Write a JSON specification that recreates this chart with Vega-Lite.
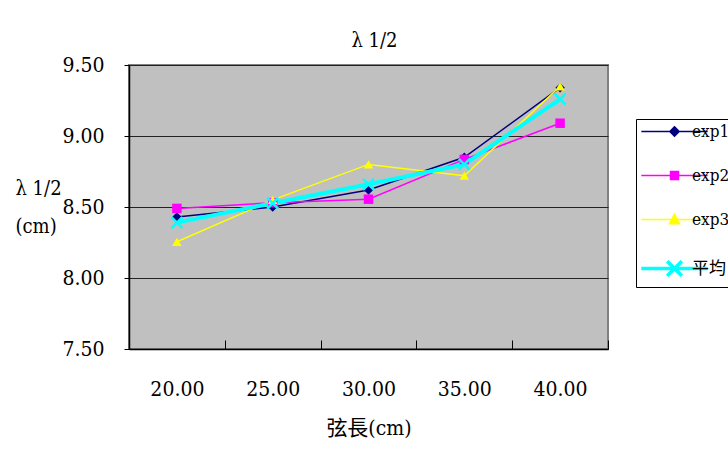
{
  "$schema": "https://vega.github.io/schema/vega-lite/v6.json",
  "autosize": {"type": "none"},
  "width": 479,
  "height": 284,
  "padding": {"left": 129, "top": 65, "right": 120, "bottom": 105},
  "background": "white",
  "config": {
    "font": "DejaVu Serif",
    "view": {"fill": "#C0C0C0", "stroke": "#808080", "strokeWidth": 2}
  },
  "title": {
    "text": "λ 1/2",
    "font": "DejaVu Serif Condensed",
    "fontSize": 20,
    "fontWeight": "normal",
    "color": "#000000",
    "offset": 3,
    "dx": 6
  },
  "data": {
    "values": [
      {"len": "20.00", "series": "exp1", "v": 8.43},
      {"len": "25.00", "series": "exp1", "v": 8.50},
      {"len": "30.00", "series": "exp1", "v": 8.62},
      {"len": "35.00", "series": "exp1", "v": 8.85},
      {"len": "40.00", "series": "exp1", "v": 9.34},
      {"len": "20.00", "series": "exp2", "v": 8.49},
      {"len": "25.00", "series": "exp2", "v": 8.53},
      {"len": "30.00", "series": "exp2", "v": 8.555},
      {"len": "35.00", "series": "exp2", "v": 8.835},
      {"len": "40.00", "series": "exp2", "v": 9.09},
      {"len": "20.00", "series": "exp3", "v": 8.255},
      {"len": "25.00", "series": "exp3", "v": 8.55},
      {"len": "30.00", "series": "exp3", "v": 8.80},
      {"len": "35.00", "series": "exp3", "v": 8.72},
      {"len": "40.00", "series": "exp3", "v": 9.35},
      {"len": "20.00", "series": "平均", "v": 8.39},
      {"len": "25.00", "series": "平均", "v": 8.527},
      {"len": "30.00", "series": "平均", "v": 8.66},
      {"len": "35.00", "series": "平均", "v": 8.80},
      {"len": "40.00", "series": "平均", "v": 9.26}
    ]
  },
  "encoding": {
    "x": {
      "field": "len",
      "type": "ordinal",
      "sort": null,
      "scale": {"type": "band", "paddingInner": 0, "paddingOuter": 0},
      "axis": {
        "title": "弦長(cm)",
        "titleFont": "DejaVu Serif Condensed, Noto Sans CJK TC",
        "titleFontSize": 21,
        "titleFontWeight": "normal",
        "titleColor": "#000000",
        "titlePadding": 18,
        "labelFont": "DejaVu Serif Condensed",
        "labelFontSize": 21,
        "labelColor": "#000000",
        "labelAngle": 0,
        "labelPadding": 38,
        "tickBand": "extent",
        "tickSize": -9,
        "tickColor": "#000000",
        "domainColor": "#000000",
        "domainWidth": 1.5,
        "grid": false
      }
    },
    "y": {
      "field": "v",
      "type": "quantitative",
      "scale": {"domain": [7.5, 9.5], "nice": false, "zero": false},
      "axis": {
        "values": [7.5, 8, 8.5, 9, 9.5],
        "format": ".2f",
        "title": ["λ 1/2", "(cm)"],
        "titleFont": "DejaVu Serif Condensed",
        "titleFontSize": 20,
        "titleFontWeight": "normal",
        "titleColor": "#000000",
        "titleAngle": 0,
        "titleAlign": "left",
        "titleBaseline": "top",
        "titleX": -114,
        "titleY": 113,
        "titleLineHeight": 38,
        "labelFont": "DejaVu Serif Condensed",
        "labelFontSize": 21,
        "labelColor": "#000000",
        "labelPadding": 20,
        "tickSize": 5,
        "tickColor": "#000000",
        "domainColor": "#000000",
        "domainWidth": 1.5,
        "grid": true,
        "gridColor": "#222222",
        "gridWidth": 1.2
      }
    },
    "color": {
      "field": "series",
      "type": "nominal",
      "scale": {
        "domain": ["exp1", "exp2", "exp3", "平均"],
        "range": ["#000080", "#FF00FF", "#FFFF00", "#00FFFF"]
      },
      "legend": {
        "title": null,
        "orient": "none",
        "legendX": 507,
        "legendY": 54,
        "padding": 4,
        "strokeColor": "#000000",
        "fillColor": "#FFFFFF",
        "symbolSize": 4400,
        "symbolOffset": 26,
        "symbolStrokeWidth": 1.5,
        "labelFont": "DejaVu Serif Condensed, Noto Sans CJK TC",
        "labelFontSize": 17,
        "labelColor": "#000000",
        "labelOffset": 9,
        "rowPadding": 26,
        "encode": {
          "symbols": {
            "update": {
              "shape": {"signal": "datum.value === 'exp1' ? 'M-1,0H1M0,-0.14L0.14,0L0,0.14L-0.14,0Z' : datum.value === 'exp2' ? 'M-1,0H1M-0.12,-0.12H0.12V0.12H-0.12Z' : datum.value === 'exp3' ? 'M-1,0H1M0,-0.16L0.15,0.13L-0.15,0.13Z' : 'M-1,0H1M-0.22,-0.22L0.22,0.22M-0.22,0.22L0.22,-0.22'"},
              "fill": {"signal": "scale('color', datum.value)"},
              "strokeWidth": {"signal": "datum.value === '平均' ? 3.5 : 1.5"}
            }
          }
        }
      }
    }
  },
  "layer": [
    {
      "transform": [{"filter": "datum.series !== '平均'"}],
      "mark": {"type": "line", "strokeWidth": 1.5}
    },
    {
      "transform": [{"filter": "datum.series === '平均'"}],
      "mark": {"type": "line", "strokeWidth": 4}
    },
    {
      "transform": [{"filter": "datum.series !== '平均'"}],
      "mark": {"type": "point", "filled": true, "opacity": 1},
      "encoding": {
        "shape": {
          "field": "series",
          "type": "nominal",
          "scale": {"domain": ["exp1", "exp2", "exp3"], "range": ["diamond", "square", "triangle-up"]},
          "legend": null
        },
        "size": {"value": 90}
      }
    },
    {
      "transform": [{"filter": "datum.series === '平均'"}],
      "mark": {"type": "point", "shape": "M-1,-1L1,1M-1,1L1,-1", "filled": false, "strokeWidth": 2.5, "opacity": 1},
      "encoding": {
        "size": {"value": 120}
      }
    }
  ]
}
